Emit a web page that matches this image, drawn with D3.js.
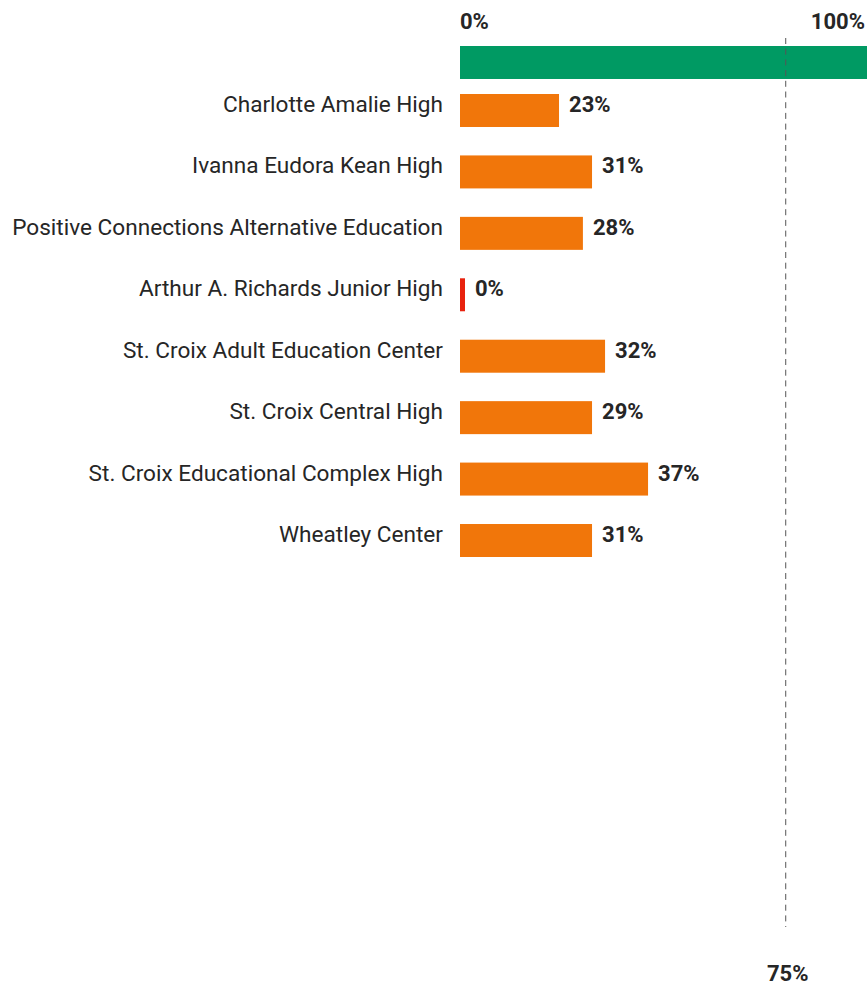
<!DOCTYPE html>
<html>
<head>
<meta charset="utf-8">
<script src="https://cdn.jsdelivr.net/npm/d3@7"></script>
<style>
  html, body { margin: 0; padding: 0; background: #fff; }
  svg { display: block; font-family: Roboto, 'Noto Sans', sans-serif; }
</style>
</head>
<body>
<div id="chart"></div>
<script>
const schools = [
  'Charlotte Amalie High',
  'Ivanna Eudora Kean High',
  'Positive Connections Alternative Education',
  'Arthur A. Richards Junior High',
  'St. Croix Adult Education Center',
  'St. Croix Central High',
  'St. Croix Educational Complex High',
  'Wheatley Center'
]
// bar lengths as drawn in the picture
const barValues = [22.8, 30.4, 28.3, 0, 33.4, 30.4, 43.3, 30.4]
// the numbers printed next to the bars
const valueLabels = ['23%', '31%', '28%', '0%', '32%', '29%', '37%', '31%']
const benchmark = [100]
const targetLine = 75
const axisTicks = ['0%', '100%']

const width = 867
const height = 986
const margin = { TOP: 46, LEFT: 460 }
const rowStep = 61.43
const padInner = 0.463

const colors = { bench: '#009a63', bar: '#f1760a', zero: '#e8220e', text: '#262626', line: '#555' }

const svg = d3.select('#chart')
  .append('svg')
  .attr('width', width)
  .attr('height', height)

const x = d3.scaleLinear()
  .domain([0, 100])
  .range([margin.LEFT, margin.LEFT + 434.3])

const bandStart = 94 - rowStep * padInner / 2
const y = d3.scaleBand()
  .domain(schools)
  .range([bandStart, bandStart + rowStep * schools.length])
  .paddingInner(padInner)
  .paddingOuter(padInner / 2)

const barH = y.bandwidth()

// top labels
svg.append('text')
  .attr('x', x(0))
  .attr('y', 29)
  .attr('font-size', 22)
  .attr('font-weight', 700)
  .attr('fill', colors.text)
  .text(axisTicks[0])

svg.append('text')
  .attr('x', width - 2)
  .attr('y', 29)
  .attr('text-anchor', 'end')
  .attr('font-size', 22)
  .attr('font-weight', 700)
  .attr('fill', colors.text)
  .text(axisTicks[1])

// benchmark bar
svg.append('g')
  .selectAll('rect')
  .data(benchmark)
  .join('rect')
  .attr('x', x(0))
  .attr('y', margin.TOP)
  .attr('width', d => x(d) - x(0))
  .attr('height', barH)
  .attr('fill', colors.bench)

// school bars
svg.append('g')
  .selectAll('rect')
  .data(schools)
  .join('rect')
  .attr('x', x(0))
  .attr('y', d => y(d))
  .attr('width', (d, i) => Math.max(x(barValues[i]) - x(0), 5))
  .attr('height', barH)
  .attr('fill', (d, i) => barValues[i] === 0 ? colors.zero : colors.bar)

// category labels
svg.append('g')
  .selectAll('text')
  .data(schools)
  .join('text')
  .attr('x', x(0) - 17)
  .attr('y', d => y(d) + 18)
  .attr('text-anchor', 'end')
  .attr('font-size', 22.6)
  .attr('fill', colors.text)
  .text(d => d)

// value labels
svg.append('g')
  .selectAll('text')
  .data(schools)
  .join('text')
  .attr('x', (d, i) => x(0) + Math.max(x(barValues[i]) - x(0), 5) + 10)
  .attr('y', d => y(d) + 18)
  .attr('font-size', 22)
  .attr('font-weight', 700)
  .attr('fill', colors.text)
  .text((d, i) => valueLabels[i])

// 75% target line
svg.append('line')
  .attr('x1', x(targetLine))
  .attr('x2', x(targetLine))
  .attr('y1', 38)
  .attr('y2', 927)
  .attr('stroke', colors.line)
  .attr('stroke-width', 1)
  .attr('stroke-dasharray', '6,4.7')

svg.append('text')
  .attr('x', x(targetLine) + 2)
  .attr('y', 981)
  .attr('text-anchor', 'middle')
  .attr('font-size', 22)
  .attr('font-weight', 700)
  .attr('fill', colors.text)
  .text(targetLine + '%')
</script>
</body>
</html>
